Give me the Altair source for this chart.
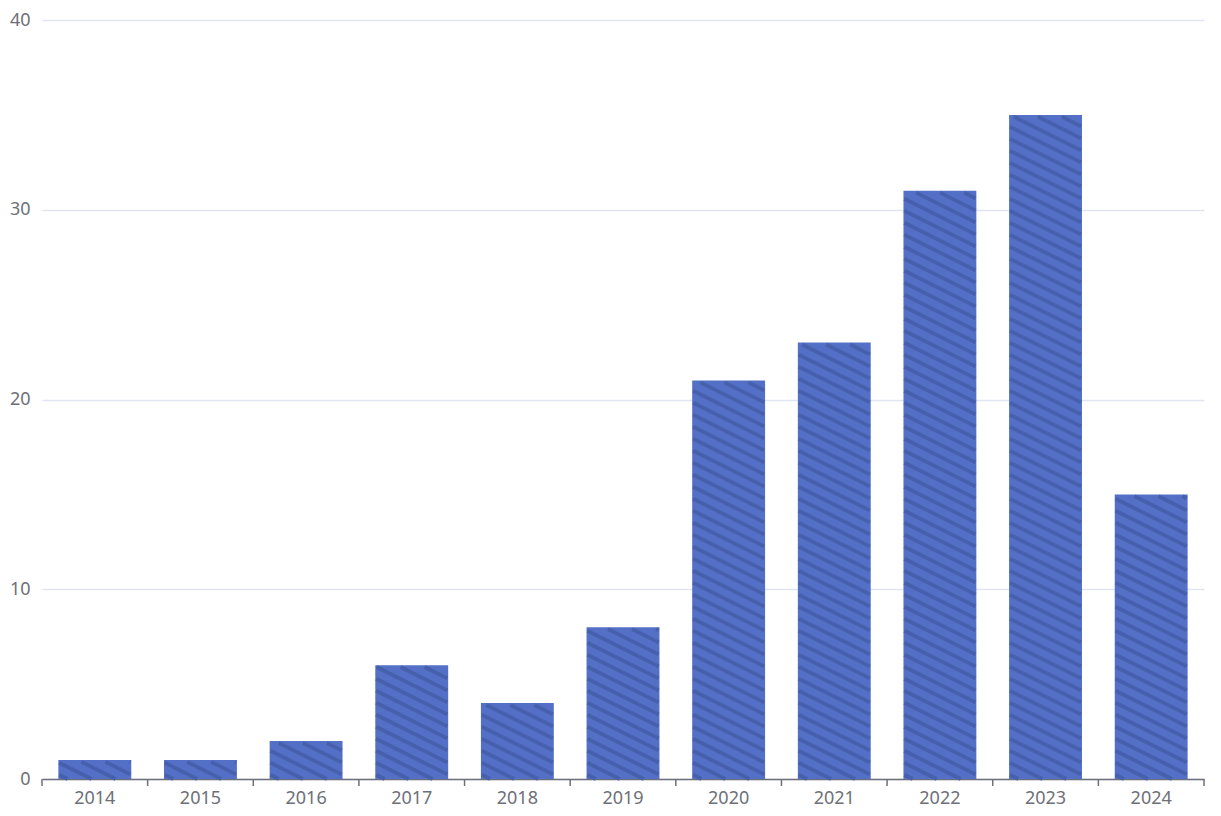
import altair as alt
import pandas as pd

years = ["2014", "2015", "2016", "2017", "2018", "2019", "2020", "2021", "2022", "2023", "2024"]
counts = [1, 1, 2, 6, 4, 8, 21, 23, 31, 35, 15]

W, H = 1162, 759
Y_MAX = 40
PAD_INNER = 0.31
PAD_OUTER = PAD_INNER / 2

bars_df = pd.DataFrame({"year": years, "count": counts})
ticks_df = pd.DataFrame({"b": list(range(len(years) + 1))})

# hatch stripes (decoration) built from the bar values, in band units / data units
px_per_band = W / len(years)
px_per_unit = H / Y_MAX
px_slope = 0.5
stroke_w = 3.8
slope = px_slope * px_per_band / px_per_unit      # data units per band unit
gap = 12.0 / px_per_unit                          # vertical spacing in data units
top_in = (stroke_w / 2) / px_per_unit
side_in = (stroke_w / 2) * 0.45 / px_per_band
bw = 1 - PAD_INNER
rows = []
for i, h in enumerate(counts):
    xl = i + PAD_OUTER + side_in
    xr = i + PAD_OUTER + bw - side_in
    w = xr - xl
    ht = h - top_in
    c = gap * 0.35
    while c < ht + slope * w:
        xs = max(xl, xl + (c - ht) / slope)
        xe = min(xr, xl + c / slope)
        if xe > xs:
            rows.append({"x": xs, "x2": xe,
                         "y": c - slope * (xs - xl), "y2": c - slope * (xe - xl)})
        c += gap
stripes_df = pd.DataFrame(rows)

y_axis = alt.Axis(values=[0, 10, 20, 30, 40], domain=False, ticks=False,
                  labelPadding=12, labelColor="#6e7079", labelFont="Noto Sans",
                  labelFontSize=18, gridColor="#e0e6f1", gridWidth=1.5)
y_scale = alt.Scale(domain=[0, Y_MAX], nice=False)
band_scale = alt.Scale(domain=[0, len(years)], nice=False, zero=False)

bars = alt.Chart(bars_df).mark_bar(color="#5470c6").encode(
    x=alt.X("year:N", sort=years, title=None,
            scale=alt.Scale(paddingInner=PAD_INNER, paddingOuter=PAD_OUTER),
            axis=alt.Axis(labelAngle=0, ticks=False, domainColor="#6e7079",
                          domainWidth=1.5, labelPadding=10, labelColor="#6e7079",
                          labelFont="Noto Sans", labelFontSize=18, grid=False)),
    y=alt.Y("count:Q", title=None, scale=y_scale, axis=y_axis),
)

stripes = alt.Chart(stripes_df).mark_rule(color="#4760ad", strokeWidth=stroke_w, strokeCap="butt").encode(
    x=alt.X("x:Q", scale=band_scale, axis=None),
    x2="x2:Q",
    y=alt.Y("y:Q", title=None, scale=y_scale, axis=y_axis),
    y2="y2:Q",
)

tick_marks = alt.Chart(ticks_df).mark_rule(color="#6e7079", strokeWidth=1.5).encode(
    x=alt.X("b:Q", scale=band_scale, axis=None),
    y=alt.value(H),
    y2=alt.value(H + 7),
)

chart = alt.layer(bars, stripes, tick_marks).resolve_scale(x="independent").properties(
    width=W, height=H,
    autosize=alt.AutoSizeParams(type="none"),
    padding={"left": 34, "top": 12, "right": 9, "bottom": 30},
).configure_view(stroke=None)

chart.save("out.html", embed_options={"renderer": "svg", "actions": False})
